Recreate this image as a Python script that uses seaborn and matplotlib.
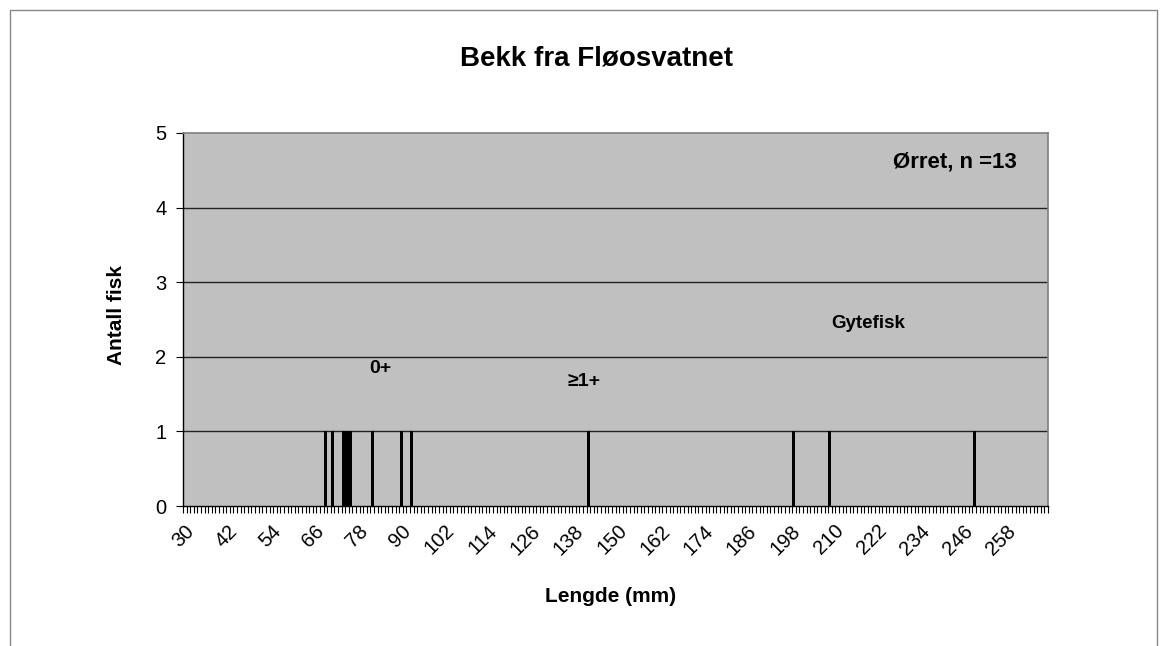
import numpy as np
import pandas as pd
import matplotlib
matplotlib.use("Agg")
import matplotlib.pyplot as plt
import seaborn as sns
from matplotlib.patches import Rectangle
from matplotlib.ticker import FixedLocator

# Data: one fish per bar (length in mm)
lengths = [69, 71, 74, 75, 76, 82, 90, 93, 142, 199, 209, 249]
categories = list(range(30, 270))        # every mm is a category on the x axis
tick_labels = list(range(30, 270, 12))   # labelled every 12 mm
y_ticks = [0, 1, 2, 3, 4, 5]

# count fish per length class
counts = pd.Series(lengths).value_counts()
df = pd.DataFrame({"lengde": categories})
df["antall"] = df["lengde"].map(counts).fillna(0)
df["lengde"] = df["lengde"].astype(str)

sns.set_style("white")
plt.rcParams["font.family"] = ["Liberation Sans", "DejaVu Sans"]
plt.rcParams["text.color"] = "black"
plt.rcParams["xtick.color"] = "black"
plt.rcParams["ytick.color"] = "black"

fig = plt.figure(figsize=(11.68, 6.46), dpi=100)
ax = fig.add_axes([183 / 1168, 1 - 506 / 646, 865 / 1168, 373 / 646])

sns.barplot(data=df, x="lengde", y="antall", order=[str(c) for c in categories],
            color="black", width=0.85, saturation=1, ax=ax, zorder=3,
            edgecolor="black", linewidth=0)

ax.set_facecolor("#c0c0c0")
ax.set_xlim(-0.5, len(categories) - 0.5)
ax.set_ylim(0, 5)
ax.set_yticks(y_ticks)
ax.set_yticklabels([str(t) for t in y_ticks], fontsize=14.5)

# labelled positions and minor ticks between every category
pos = [categories.index(t) for t in tick_labels]
ax.set_xticks(pos)
ax.set_xticklabels([str(t) for t in tick_labels], rotation=45, ha="right",
                   rotation_mode="anchor", fontsize=14.5)
ax.xaxis.set_minor_locator(FixedLocator(np.arange(-0.5, len(categories), 1)))
ax.tick_params(axis="x", which="major", length=0, pad=11)
ax.tick_params(axis="x", which="minor", length=5, width=0.8, color="black", bottom=True)
ax.tick_params(axis="y", which="major", length=5, width=0.8, color="black", left=True, pad=7)

ax.grid(False)
for y in y_ticks[1:5]:
    ax.axhline(y, color="#222222", lw=1, zorder=2)

for side in ["top", "right"]:
    ax.spines[side].set_color("#808080")
    ax.spines[side].set_linewidth(1.2)
for side in ["left", "bottom"]:
    ax.spines[side].set_color("black")
    ax.spines[side].set_linewidth(1)

ax.set_xlabel("")
ax.set_ylabel("")

# texts
fig.text(0.511, 0.910, "Bekk fra Fløosvatnet", fontsize=20, fontweight="bold",
         ha="center", va="center")
fig.text(0.100, 0.512, "Antall fisk", fontsize=15, fontweight="bold",
         rotation=90, ha="center", va="center")
fig.text(0.523, 0.076, "Lengde (mm)", fontsize=15, fontweight="bold",
         ha="center", va="center")
fig.text(0.8176, 0.749, "Ørret, n =13", fontsize=16, fontweight="bold",
         ha="center", va="center")
fig.text(0.743, 0.500, "Gytefisk", fontsize=13.5, fontweight="bold",
         ha="center", va="center")
fig.text(0.3253, 0.430, "0+", fontsize=14, fontweight="bold",
         ha="center", va="center")
fig.text(0.500, 0.410, "≥1+", fontsize=14, fontweight="bold",
         ha="center", va="center")

# outer chart border
fig.add_artist(Rectangle((10 / 1168, -0.1), 1147 / 1168, 1.1 - 10 / 646,
                         transform=fig.transFigure, fill=False,
                         edgecolor="#888888", lw=1))

fig.savefig("out.png", dpi=100)
